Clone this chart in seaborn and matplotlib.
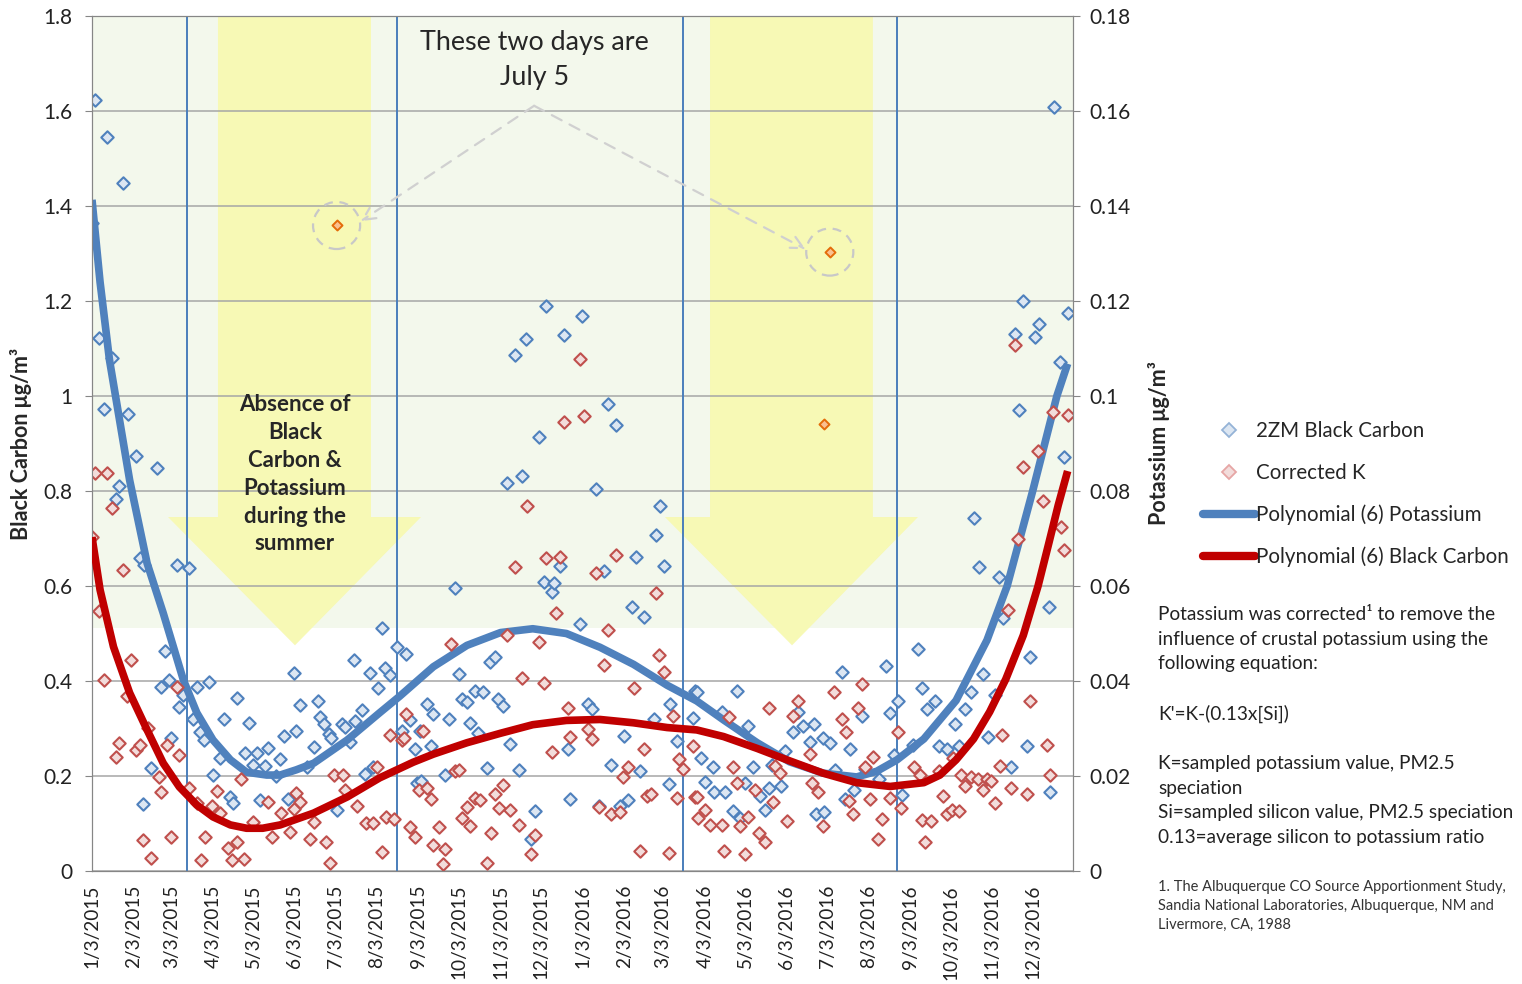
import numpy as np
import pandas as pd
import matplotlib
matplotlib.use("Agg")
import matplotlib.pyplot as plt
from matplotlib.patches import Polygon, Rectangle
from matplotlib.lines import Line2D
import seaborn as sns

sns.set_style("white")
plt.rcParams["font.family"] = ["Lato", "DejaVu Sans"]

start = pd.Timestamp("2015-01-03")

# 2ZM Black Carbon, ug/m3 (day = days after 1/3/2015)
bc_day = [0, 2, 5, 9, 11, 15, 18, 20, 23, 27, 33, 36, 38, 39, 44, 48, 51, 54, 57, 59,
          63, 65, 68, 72, 75, 78, 80, 83, 87, 90, 95, 98, 103, 105, 108, 114, 117, 120, 123, 125,
          129, 131, 137, 140, 143, 146, 150, 152, 155, 160, 165, 168, 170, 173, 176, 178, 182, 186, 188, 192,
          195, 196, 201, 203, 207, 209, 213, 216, 218, 222, 227, 231, 234, 237, 240, 242, 244, 245, 249, 252,
          254, 263, 266, 270, 273, 275, 279, 281, 285, 287, 291, 294, 296, 300, 302, 306, 309, 311, 315, 318,
          320, 323, 327, 330, 333, 336, 338, 342, 344, 348, 351, 354, 356, 363, 365, 369, 372, 375, 377, 381,
          384, 386, 390, 393, 396, 399, 402, 405, 408, 411, 418, 420, 423, 426, 429, 430, 435, 447, 449, 450,
          453, 456, 462, 463, 469, 471, 477, 480, 482, 486, 488, 492, 497, 501, 504, 506, 513, 516, 522, 525,
          529, 534, 537, 539, 544, 545, 549, 553, 558, 560, 564, 567, 573, 575, 586, 591, 594, 597, 600, 603,
          611, 615, 618, 621, 627, 630, 636, 642, 645, 650, 654, 656, 660, 663, 667, 672, 675, 678, 684, 687,
          690, 693, 696, 698, 702, 705, 712, 713, 716, 720, 723, 726]
bc_val = [1.364, 1.623, 1.122, 0.973, 1.546, 1.08, 0.783, 0.81, 1.448, 0.962, 0.874, 0.659, 0.141, 0.644, 0.217, 0.848, 0.387, 0.463, 0.402, 0.28,
          0.644, 0.346, 0.371, 0.638, 0.32, 0.387, 0.293, 0.276, 0.398, 0.202, 0.238, 0.32, 0.156, 0.143, 0.364, 0.248, 0.312, 0.223, 0.248, 0.149,
          0.221, 0.259, 0.2, 0.236, 0.284, 0.152, 0.417, 0.295, 0.35, 0.219, 0.261, 0.358, 0.324, 0.309, 0.288, 0.28, 0.128, 0.309, 0.303, 0.272,
          0.444, 0.316, 0.339, 0.204, 0.417, 0.219, 0.385, 0.511, 0.427, 0.413, 0.472, 0.294, 0.457, 0.317, 0.256, 0.185, 0.294, 0.19, 0.352, 0.264,
          0.331, 0.203, 0.319, 0.595, 0.415, 0.363, 0.355, 0.311, 0.38, 0.291, 0.377, 0.216, 0.441, 0.451, 0.363, 0.347, 0.816, 0.267, 1.086, 0.212,
          0.832, 1.12, 0.067, 0.127, 0.913, 0.608, 1.19, 0.587, 0.606, 0.642, 1.128, 0.256, 0.152, 0.52, 1.168, 0.352, 0.341, 0.805, 0.137, 0.631,
          0.983, 0.224, 0.938, 0.137, 0.284, 0.15, 0.555, 0.662, 0.21, 0.534, 0.32, 0.708, 0.768, 0.643, 0.183, 0.351, 0.274, 0.322, 0.379, 0.377,
          0.238, 0.188, 0.22, 0.166, 0.335, 0.166, 0.127, 0.379, 0.111, 0.186, 0.306, 0.218, 0.158, 0.129, 0.174, 0.224, 0.178, 0.253, 0.293, 0.335,
          0.306, 0.272, 0.31, 0.121, 0.28, 0.125, 0.269, 0.212, 0.419, 0.151, 0.256, 0.17, 0.327, 0.214, 0.194, 0.431, 0.333, 0.244, 0.358, 0.159,
          0.266, 0.467, 0.385, 0.342, 0.358, 0.264, 0.256, 0.309, 0.264, 0.342, 0.377, 0.744, 0.639, 0.414, 0.282, 0.371, 0.619, 0.532, 0.218, 1.13,
          0.971, 1.2, 0.264, 0.451, 1.124, 1.152, 0.556, 0.167, 1.608, 1.071, 0.872, 1.174]

# Corrected K, ug/m3
k_day = [0, 2, 5, 9, 11, 15, 18, 20, 23, 26, 29, 33, 36, 38, 42, 44, 50, 51, 56, 59,
         63, 65, 72, 78, 81, 84, 87, 89, 93, 95, 101, 104, 108, 111, 113, 120, 131, 134, 141, 147,
         150, 152, 155, 162, 165, 174, 177, 180, 187, 188, 197, 204, 209, 212, 216, 219, 222, 225, 231, 232,
         234, 237, 240, 243, 246, 249, 252, 254, 258, 261, 263, 267, 270, 273, 275, 279, 281, 285, 289, 294,
         297, 300, 303, 306, 309, 311, 315, 318, 320, 324, 327, 330, 333, 336, 338, 342, 345, 348, 351, 354,
         356, 363, 366, 369, 372, 375, 377, 381, 384, 386, 390, 393, 395, 399, 403, 408, 411, 413, 416, 420,
         422, 426, 429, 432, 435, 437, 440, 447, 449, 450, 451, 456, 460, 469, 470, 474, 477, 480, 482, 486,
         488, 493, 496, 501, 504, 507, 508, 512, 517, 522, 525, 534, 536, 540, 544, 552, 558, 561, 563, 566,
         570, 573, 575, 579, 581, 585, 588, 594, 600, 602, 612, 616, 618, 620, 624, 630, 633, 636, 640, 641,
         645, 647, 650, 654, 659, 663, 666, 669, 672, 676, 677, 682, 684, 687, 689, 693, 696, 698, 704, 708,
         711, 713, 715, 721, 723, 726]
k_val = [0.0703, 0.0838, 0.0547, 0.0402, 0.0838, 0.0764, 0.0240, 0.0269, 0.0634, 0.0368, 0.0444, 0.0255, 0.0265, 0.0065, 0.0301, 0.0027, 0.0198, 0.0166, 0.0265, 0.0072,
         0.0387, 0.0244, 0.0175, 0.0143, 0.0023, 0.0072, 0.0128, 0.0137, 0.0168, 0.0122, 0.0048, 0.0023, 0.0061, 0.0194, 0.0025, 0.0103, 0.0145, 0.0072, 0.0122, 0.0082,
         0.0130, 0.0164, 0.0145, 0.0067, 0.0103, 0.0061, 0.0017, 0.0202, 0.0202, 0.0170, 0.0137, 0.0101, 0.0101, 0.0219, 0.0040, 0.0114, 0.0286, 0.0109, 0.0276, 0.0280,
         0.0330, 0.0092, 0.0071, 0.0170, 0.0294, 0.0175, 0.0151, 0.0055, 0.0093, 0.0014, 0.0047, 0.0478, 0.0210, 0.0212, 0.0111, 0.0135, 0.0095, 0.0153, 0.0150, 0.0016,
         0.0081, 0.0162, 0.0132, 0.0182, 0.0496, 0.0129, 0.0639, 0.0097, 0.0407, 0.0768, 0.0036, 0.0075, 0.0482, 0.0395, 0.0659, 0.0250, 0.0544, 0.0662, 0.0946, 0.0344,
         0.0282, 0.1078, 0.0957, 0.0298, 0.0278, 0.0628, 0.0135, 0.0433, 0.0508, 0.0121, 0.0666, 0.0124, 0.0198, 0.0220, 0.0385, 0.0043, 0.0256, 0.0158, 0.0162, 0.0586,
         0.0455, 0.0419, 0.0037, 0.0327, 0.0154, 0.0236, 0.0214, 0.0264, 0.0156, 0.0155, 0.0111, 0.0129, 0.0097, 0.0097, 0.0043, 0.0325, 0.0220, 0.0186, 0.0095, 0.0035,
         0.0113, 0.0170, 0.0080, 0.0061, 0.0344, 0.0146, 0.0222, 0.0206, 0.0105, 0.0327, 0.0357, 0.0246, 0.0186, 0.0167, 0.0095, 0.0377, 0.0320, 0.0293, 0.0148, 0.0121,
         0.0344, 0.0393, 0.0218, 0.0151, 0.0240, 0.0067, 0.0109, 0.0153, 0.0293, 0.0133, 0.0220, 0.0202, 0.0107, 0.0061, 0.0105, 0.0210, 0.0157, 0.0121, 0.0129, 0.0238,
         0.0127, 0.0202, 0.0178, 0.0198, 0.0194, 0.0170, 0.0194, 0.0190, 0.0143, 0.0222, 0.0286, 0.0550, 0.0174, 0.1107, 0.0698, 0.0850, 0.0162, 0.0357, 0.0884, 0.0779,
         0.0266, 0.0202, 0.0967, 0.0725, 0.0675, 0.0959]

# highlighted July 5 (and nearby) samples, black carbon scale
july_day = [182, 549, 545]
july_val = [1.359, 1.303, 0.94]

# polynomial (6) trend lines as drawn
trend_bc_day = [0, 6, 13, 28, 41, 53, 68, 78, 90, 103, 115, 130, 140, 152, 165, 190, 214, 229, 254, 279,
                304, 328, 353, 378, 403, 428, 450, 470, 495, 519, 544, 569, 584, 599, 619, 643, 666, 681, 700, 718, 726]
trend_bc_val = [1.413, 1.24, 1.076, 0.823, 0.648, 0.543, 0.402, 0.333, 0.276, 0.234, 0.208, 0.202, 0.202, 0.213, 0.227, 0.276, 0.333, 0.368, 0.43, 0.475,
                0.502, 0.51, 0.5, 0.471, 0.435, 0.391, 0.358, 0.318, 0.27, 0.23, 0.206, 0.198, 0.21, 0.234, 0.278, 0.359, 0.486, 0.6, 0.8, 1.0, 1.068]
trend_k_day = [0, 6, 16, 28, 41, 53, 65, 78, 90, 103, 115, 127, 140, 165, 190, 214, 239, 254, 279, 304,
               328, 353, 378, 403, 428, 450, 470, 495, 519, 544, 569, 594, 619, 631, 643, 656, 668, 680, 693, 704, 712, 719, 726]
trend_k_val = [0.0703, 0.0592, 0.0472, 0.0375, 0.0297, 0.0227, 0.0177, 0.0139, 0.0114, 0.0097, 0.0090, 0.0090, 0.0097, 0.0122, 0.0156, 0.0196, 0.0229, 0.0246, 0.0270, 0.0290,
               0.0308, 0.0317, 0.0319, 0.0312, 0.0302, 0.0297, 0.0283, 0.0258, 0.0232, 0.0206, 0.0186, 0.0178, 0.0186, 0.0202, 0.0234, 0.0278, 0.0335, 0.0404, 0.0496, 0.0600, 0.0690, 0.0770, 0.0842]

# season boundaries (vertical lines)
season_day = [71, 227, 440, 599]


def to_date(days):
    return start + pd.to_timedelta(days, unit="D")


bc = pd.DataFrame({"date": to_date(bc_day), "value": bc_val})
kk = pd.DataFrame({"date": to_date(k_day), "value": k_val})
tbc = pd.DataFrame({"date": to_date(trend_bc_day), "value": trend_bc_val})
tk = pd.DataFrame({"date": to_date(trend_k_day), "value": trend_k_val})

BLUE = "#4f81bd"
RED = "#c0504d"
GRID = "#a6a6a6"

fig = plt.figure(figsize=(15.22, 9.84), dpi=100)
ax = fig.add_axes([92 / 1522, 1 - 871 / 984, 981 / 1522, 855 / 984])
ax2 = ax.twinx()

# background decoration
ax.add_patch(Rectangle((0, 0.284), 1, 0.716, transform=ax.transAxes,
                       facecolor="#f3f8ec", edgecolor="none", zorder=0.1))
for xs in [(0.1284, 0.2844, 0.0775, 0.3354, 0.2069), (0.630, 0.796, 0.584, 0.842, 0.7136)]:
    a, b, c, d, tip = xs
    pts = [(a, 1.0), (b, 1.0), (b, 0.414), (d, 0.414), (tip, 0.264), (c, 0.414), (a, 0.414)]
    ax.add_patch(Polygon(pts, closed=True, transform=ax.transAxes,
                         facecolor="#f7f9b5", edgecolor="none", zorder=0.2))

ax.set_axisbelow(True)
ax.yaxis.grid(True, color=GRID, lw=1.1)
for d in season_day:
    ax.axvline(to_date(d), color="#4a7ebb", lw=1.4, zorder=1)

sns.scatterplot(data=bc, x="date", y="value", ax=ax, marker="D", s=40,
                color="#dce6f2", edgecolor=BLUE, linewidth=1.5, zorder=2, legend=False)
sns.lineplot(data=tbc, x="date", y="value", ax=ax, color=BLUE, lw=5.5,
             estimator=None, zorder=4, legend=False, solid_capstyle="butt")

sns.scatterplot(data=kk, x="date", y="value", ax=ax2, marker="D", s=40,
                color="#f2dcdb", edgecolor=RED, linewidth=1.5, zorder=2, legend=False)
sns.lineplot(data=tk, x="date", y="value", ax=ax2, color="#c00000", lw=5.5,
             estimator=None, zorder=4, legend=False, solid_capstyle="butt")

# July 5 highlight
jd = to_date(july_day)
ax2.scatter(jd, np.array(july_val) / 10, marker="D", s=26, color="#fac090",
            edgecolor="#e46c0a", linewidth=1.4, zorder=5)
ax2.scatter(jd[:2], np.array(july_val[:2]) / 10, marker="o", s=1150, facecolor="none",
            edgecolor="#c8c8c8", linewidth=1.6, linestyle=(0, (4, 3)), zorder=5)
apex = (to_date(329), 0.1611)
for tip in [(to_date(200), 0.1368), (to_date(531), 0.1309)]:
    ax2.annotate("", xy=tip, xytext=apex,
                 arrowprops=dict(arrowstyle="->", color="#d0d0d0", lw=1.6,
                                 linestyle=(0, (5, 4)), shrinkA=0, shrinkB=0,
                                 mutation_scale=22), zorder=5)

ax.text(to_date(329), 1.707, "These two days are\nJuly 5", ha="center", va="center",
        fontsize=19.4, linespacing=1.5, zorder=6)
ax.text(to_date(151), 0.835, "Absence of\nBlack\nCarbon &\nPotassium\nduring the\nsummer",
        ha="center", va="center", fontsize=16, fontweight="bold", linespacing=1.4, zorder=6)

# axes
ax.set_xlim(start, to_date(730))
ax.set_ylim(0, 1.8)
ax2.set_ylim(0, 0.18)
ticks = [start + pd.DateOffset(months=i) for i in range(24)]
ax.set_xticks(ticks)
ax.set_xticklabels([f"{t.month}/{t.day}/{t.year}" for t in ticks], rotation=90, fontsize=13.7)
ax.set_yticks(np.arange(0, 1.81, 0.2))
ax.set_yticklabels(["0", "0.2", "0.4", "0.6", "0.8", "1", "1.2", "1.4", "1.6", "1.8"], fontsize=15)
ax2.set_yticks(np.arange(0, 0.181, 0.02))
ax2.set_yticklabels(["0", "0.02", "0.04", "0.06", "0.08", "0.1", "0.12", "0.14", "0.16", "0.18"], fontsize=15)
ax.set_xlabel("")
ax.set_ylabel("Black Carbon μg/m³", fontsize=15.5, fontweight="bold", labelpad=8)
ax2.set_ylabel("Potassium μg/m³", fontsize=15.5, fontweight="bold", labelpad=12)
ax2.grid(False)
for a in (ax, ax2):
    for s in a.spines.values():
        s.set_color("#868686")
    a.tick_params(axis="both", colors="#868686", labelcolor="#222222", length=5, direction="out")
ax.tick_params(axis="y", pad=9)
ax2.tick_params(axis="y", pad=7)
ax.tick_params(axis="x", length=6, pad=4)

# legend
handles = [
    Line2D([], [], ls="none", marker="D", markersize=7, mfc="#dce6f2", mec="#95b3d7", mew=1.3),
    Line2D([], [], ls="none", marker="D", markersize=7, mfc="#f2dcdb", mec="#e6a6a5", mew=1.3),
    Line2D([], [], color=BLUE, lw=6, solid_capstyle="round"),
    Line2D([], [], color="#c00000", lw=6, solid_capstyle="round"),
]
labels = ["2ZM Black Carbon", "Corrected K", "Polynomial (6) Potassium", "Polynomial (6) Black Carbon"]
fig.legend(handles, labels, loc="center left", bbox_to_anchor=(0.785, 0.4975),
           frameon=False, fontsize=14.8, labelspacing=1.05, handlelength=2.55,
           handletextpad=0.05, borderaxespad=0)

note = ("Potassium was corrected¹ to remove the\ninfluence of crustal potassium using the\n"
        "following equation:\n\nK'=K-(0.13x[Si])\n\nK=sampled potassium value, PM2.5\nspeciation\n"
        "Si=sampled silicon value, PM2.5 speciation\n0.13=average silicon to potassium ratio")
fig.text(1158 / 1522, 1 - 606 / 984, note, ha="left", va="top", fontsize=13.7,
         linespacing=1.54, color="#222222")
ref = ("1. The Albuquerque CO Source Apportionment Study,\n"
       "Sandia National Laboratories, Albuquerque, NM and\nLivermore, CA, 1988")
fig.text(1158 / 1522, 1 - 880 / 984, ref, ha="left", va="top", fontsize=10.5,
         linespacing=1.45, color="#333333")

fig.savefig("out.png", dpi=100)
